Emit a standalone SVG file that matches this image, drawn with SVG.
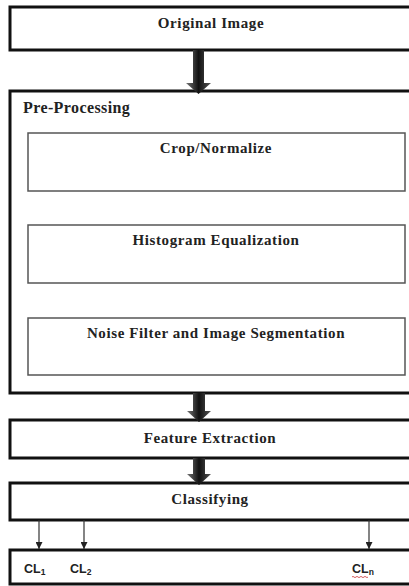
<svg xmlns="http://www.w3.org/2000/svg" width="409" height="586" viewBox="0 0 409 586">
<style>
.outer{fill:#fff;stroke:#111;stroke-width:3}
.inner{fill:#fff;stroke:#555;stroke-width:1.5}
.t{font-family:"Liberation Serif","Times New Roman",serif;font-weight:bold;font-size:15px;fill:#222;letter-spacing:0.6px}
.c{text-anchor:middle}
.cl{font-family:"Liberation Sans",Arial,sans-serif;font-weight:bold;font-size:12.5px;fill:#222}
.thin{stroke:#333;stroke-width:1.2;fill:none}
</style>
<defs>
<linearGradient id="g" x1="0" y1="0" x2="1" y2="0">
<stop offset="0" stop-color="#777"/>
<stop offset="0.5" stop-color="#111"/>
<stop offset="1" stop-color="#555"/>
</linearGradient>
<marker id="ah" viewBox="0 0 10 10" refX="10" refY="5" markerWidth="7" markerHeight="7" orient="auto" markerUnits="userSpaceOnUse">
<path d="M0,0 L10,5 L0,10 z" fill="#222"/>
</marker>
</defs>
<rect width="409" height="586" fill="#fff"/>

<g id="original-image">
<rect class="outer" x="10" y="7" width="410" height="43"/>
<text class="t c" x="211" y="28">Original Image</text>
</g>

<g id="pre-processing">
<rect class="outer" x="10" y="91" width="410" height="302"/>
<text class="t" x="23" y="113" style="font-size:16px;letter-spacing:0.4px">Pre-Processing</text>
</g>
<g id="crop-normalize">
<rect class="inner" x="28" y="133" width="377" height="58"/>
<text class="t c" x="216" y="153">Crop/Normalize</text>
</g>
<g id="histogram-equalization">
<rect class="inner" x="28" y="225" width="377" height="58"/>
<text class="t c" x="216" y="245">Histogram Equalization</text>
</g>
<g id="noise-filter">
<rect class="inner" x="28" y="318" width="377" height="57"/>
<text class="t c" x="216" y="338">Noise Filter and Image Segmentation</text>
</g>

<g id="feature-extraction">
<rect class="outer" x="10" y="420" width="410" height="38"/>
<text class="t c" x="210" y="443">Feature Extraction</text>
</g>

<g id="classifying">
<rect class="outer" x="10" y="483" width="410" height="37"/>
<text class="t c" x="210" y="504">Classifying</text>
</g>

<g id="classes">
<rect class="outer" x="10" y="550" width="410" height="34"/>
<text class="cl" x="24" y="573">CL<tspan font-size="8.5" dy="2">1</tspan></text>
<text class="cl" x="70" y="573">CL<tspan font-size="8.5" dy="2">2</tspan></text>
<text class="cl" x="352" y="573">CL<tspan font-size="8.5" dy="2">n</tspan></text>
<path d="M352,577 q1,-1.2 2,0 t2,0 t2,0 t2,0 t2,0 t2,0 t2,0 t2,0" fill="none" stroke="#c33" stroke-width="0.8"/>
</g>

<g id="connectors">
<path d="M193,50 H204 V83 H211 L198.5,94 L186,83 H193 Z" fill="url(#g)"/>
<path d="M193,393 H205 V411 H211 L199,422 L187,411 H193 Z" fill="url(#g)"/>
<path d="M193,458 H205 V474 H211 L199,485 L187,474 H193 Z" fill="url(#g)"/>
<line class="thin" x1="39" y1="520" x2="39" y2="549" marker-end="url(#ah)"/>
<line class="thin" x1="84" y1="520" x2="84" y2="549" marker-end="url(#ah)"/>
<line class="thin" x1="369" y1="520" x2="369" y2="549" marker-end="url(#ah)"/>
</g>
</svg>
